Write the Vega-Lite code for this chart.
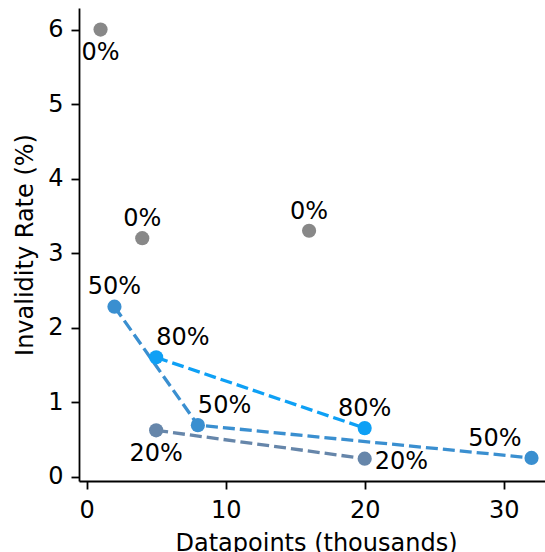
{
  "$schema": "https://vega.github.io/schema/vega-lite/v6.json",
  "width": 466,
  "height": 473,
  "autosize": {"type": "none"},
  "padding": {"left": 79, "top": 8, "right": 0, "bottom": 71},
  "background": "white",
  "config": {
    "view": {"stroke": null},
    "font": "DejaVu Sans",
    "axis": {
      "grid": false,
      "domainColor": "black",
      "domainWidth": 1.8,
      "tickColor": "black",
      "tickWidth": 1.8,
      "tickSize": 8,
      "labelFontSize": 24,
      "labelColor": "black",
      "labelFont": "DejaVu Sans",
      "titleFont": "DejaVu Sans",
      "titleFontSize": 24,
      "titleColor": "black",
      "titleFontWeight": "normal"
    }
  },
  "data": {
    "values": [
      {"thousands": 1, "rate": 6.0, "share": "0%"},
      {"thousands": 4, "rate": 3.2, "share": "0%"},
      {"thousands": 16, "rate": 3.3, "share": "0%"},
      {"thousands": 2, "rate": 2.28, "share": "50%"},
      {"thousands": 8, "rate": 0.69, "share": "50%"},
      {"thousands": 32, "rate": 0.25, "share": "50%"},
      {"thousands": 5, "rate": 1.6, "share": "80%"},
      {"thousands": 20, "rate": 0.65, "share": "80%"},
      {"thousands": 5, "rate": 0.62, "share": "20%"},
      {"thousands": 20, "rate": 0.24, "share": "20%"}
    ]
  },
  "encoding": {
    "x": {
      "field": "thousands",
      "type": "quantitative",
      "scale": {"domain": [-0.55, 32.97], "nice": false, "zero": false},
      "axis": {
        "values": [0, 10, 20, 30],
        "labelPadding": 9,
        "title": "Datapoints (thousands)",
        "titleX": 237,
        "titleY": 69,
        "titleBaseline": "alphabetic"
      }
    },
    "y": {
      "field": "rate",
      "type": "quantitative",
      "scale": {"domain": [-0.06, 6.29], "nice": false, "zero": false},
      "axis": {
        "values": [0, 1, 2, 3, 4, 5, 6],
        "labelPadding": 8,
        "title": "Invalidity Rate (%)",
        "titleX": -47,
        "titleBaseline": "alphabetic"
      }
    },
    "color": {
      "field": "share",
      "type": "nominal",
      "scale": {
        "domain": ["0%", "20%", "50%", "80%"],
        "range": ["#888888", "#6686aa", "#3a8fd0", "#0ea0f5"]
      },
      "legend": null
    }
  },
  "layer": [
    {
      "transform": [{"filter": "datum.share !== '0%'"}],
      "mark": {"type": "line", "strokeDash": [12, 5], "strokeWidth": 3.3}
    },
    {
      "mark": {"type": "circle", "size": 201, "opacity": 1}
    },
    {
      "transform": [{"filter": "(datum.share === '0%' && datum.thousands > 1) || (datum.share === '50%' && datum.thousands === 2) || (datum.share === '80%' && datum.thousands === 20)"}],
      "mark": {"type": "text", "align": "center", "baseline": "middle", "dy": -19.2, "fontSize": 24},
      "encoding": {"text": {"field": "share"}, "color": {"value": "black"}}
    },
    {
      "transform": [{"filter": "(datum.share === '0%' && datum.thousands === 1) || (datum.share === '20%' && datum.thousands === 5)"}],
      "mark": {"type": "text", "align": "center", "baseline": "middle", "dy": 23.5, "fontSize": 24},
      "encoding": {"text": {"field": "share"}, "color": {"value": "black"}}
    },
    {
      "transform": [{"filter": "(datum.share === '80%' && datum.thousands === 5) || (datum.share === '50%' && datum.thousands === 8)"}],
      "mark": {"type": "text", "align": "left", "baseline": "middle", "dy": -19.2, "fontSize": 24},
      "encoding": {"text": {"field": "share"}, "color": {"value": "black"}}
    },
    {
      "transform": [{"filter": "datum.share === '20%' && datum.thousands === 20"}],
      "mark": {"type": "text", "align": "left", "baseline": "middle", "dx": 10, "dy": 3, "fontSize": 24},
      "encoding": {"text": {"field": "share"}, "color": {"value": "black"}}
    },
    {
      "transform": [{"filter": "datum.share === '50%' && datum.thousands === 32"}],
      "mark": {"type": "text", "align": "right", "baseline": "middle", "dx": -10, "dy": -19.2, "fontSize": 24},
      "encoding": {"text": {"field": "share"}, "color": {"value": "black"}}
    }
  ]
}
